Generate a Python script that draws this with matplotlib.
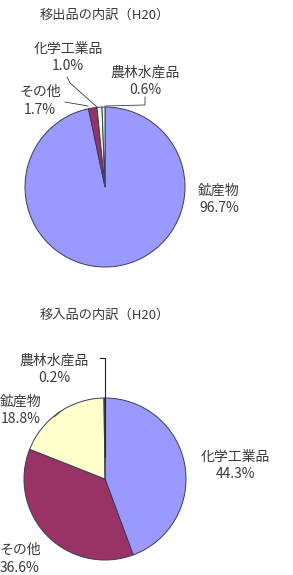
import matplotlib.pyplot as plt

plt.rcParams['font.family'] = ['Noto Sans CJK JP', 'DejaVu Sans']

W, H = 293, 575

# top pie: 移出品
out_title = '移出品の内訳（H20）'
out_labels = ['鉱産物', 'その他', '化学工業品', '農林水産品']
out_values = [96.7, 1.7, 1.0, 0.6]

# bottom pie: 移入品
in_title = '移入品の内訳（H20）'
in_labels = ['化学工業品', 'その他', '鉱産物', '農林水産品']
in_values = [44.3, 36.6, 18.8, 0.2]

# colours go by slice order (Excel default pie palette)
slice_colors = ['#9999ff', '#993366', '#ffffcc', '#ccffff']
text_color = '#3a3a3a'
label_size = 10
title_size = 9.5

fig = plt.figure(figsize=(W / 100, H / 100), dpi=100)
ax = fig.add_axes([0, 0, 1, 1])


def Y(py):
    # pixel row from top -> data y
    return H - py


def draw_pie(values, cx, cy, r):
    ax.pie(values, colors=slice_colors[:len(values)], startangle=90,
           counterclock=False, center=(cx, Y(cy)), radius=r,
           wedgeprops=dict(edgecolor='#3a3a5a', linewidth=0.7))


def label(txt, val, x, y, ha='center'):
    ax.text(x, Y(y), f'{txt}\n{val:.1f}%', ha=ha, va='center', fontsize=label_size,
            color=text_color, linespacing=1.3)


# ---- top ----
ax.text(105, Y(15), out_title, ha='center', va='center', fontsize=title_size, color=text_color)
draw_pie(out_values, 105, 187, 80)
vals = dict(zip(out_labels, out_values))
label('鉱産物', vals['鉱産物'], 219, 199)
label('化学工業品', vals['化学工業品'], 68, 57)
label('農林水産品', vals['農林水産品'], 145, 81)
label('その他', vals['その他'], 40, 101)
ax.plot([67, 70, 97], [Y(77), Y(83), Y(107)], color=text_color, lw=0.6)
ax.plot([145, 145, 105], [Y(97), Y(105), Y(106)], color=text_color, lw=0.6)
ax.plot([65, 88], [Y(102), Y(106)], color=text_color, lw=0.6)

# ---- bottom ----
ax.text(105, Y(315), in_title, ha='center', va='center', fontsize=title_size, color=text_color)
draw_pie(in_values, 105, 479, 81)
vals = dict(zip(in_labels, in_values))
label('化学工業品', vals['化学工業品'], 235, 465)
label('その他', vals['その他'], 20, 559)
label('鉱産物', vals['鉱産物'], 21, 410)
label('農林水産品', vals['農林水産品'], 54, 369)
ax.plot([100, 105, 105], [Y(358), Y(358), Y(457)], color='#222222', lw=0.8)
ax.plot([54, 60], [Y(417), Y(412)], color=text_color, lw=0.6)

# pie() resets limits, so set them last
ax.set_xlim(0, W)
ax.set_ylim(0, H)
ax.set_aspect('equal')
ax.axis('off')

fig.savefig('out.png', dpi=100, facecolor='white')
